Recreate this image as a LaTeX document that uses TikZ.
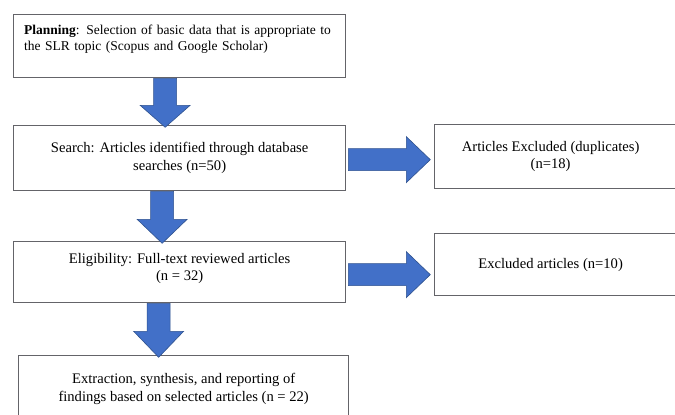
\documentclass[tikz,border=0pt]{standalone}
\usepackage{fontspec}
\setmainfont{Liberation Serif}
\definecolor{boxline}{RGB}{100,100,105}
\definecolor{arrfill}{RGB}{66,112,200}
\definecolor{arrline}{RGB}{47,82,143}
\begin{document}
\begin{tikzpicture}[x=1pt,y=-1pt,
  box/.style={draw=boxline, line width=1.3pt, fill=white, anchor=north west, inner sep=0pt, align=center, font=\fontsize{14.6}{17.5}\selectfont},
  barrow/.style={fill=arrfill, draw=arrline, line width=0.6pt, line join=miter},
  pics/darrow/.style args={#1/#2}{code={
    \path[barrow] (-11.5,0) -- (11.5,0) -- (11.5,#1-#2) -- (25,#1-#2) -- (0,#1) -- (-25,#1-#2) -- (-11.5,#1-#2) -- cycle;}},
  pics/rarrow/.style={code={
    \path[barrow] (0,-11) -- (#1-24,-11) -- (#1-24,-23) -- (#1,0) -- (#1-24,23) -- (#1-24,11) -- (0,11) -- cycle;}}
]
\useasboundingbox (0,0) rectangle (675,415);
\fill[white] (0,0) rectangle (675,415);

\node[box, minimum width=332pt, minimum height=63pt] (b1) at (13,14) {};
\node[anchor=north west, inner sep=0pt, align=left, text width=325pt, font=\fontsize{13.5}{15.5}\selectfont] (b1t) at (24,25) {\textbf{Planning}: Selection of basic data that is appropriate to\\the SLR topic (Scopus and Google Scholar)};

\node[box, minimum width=332pt, minimum height=65pt] (b2) at (13,125) {Search: Articles identified through database\\searches (n=50)};
\node[box, minimum width=246pt, minimum height=64pt] (b3) at (434,124) {\hspace*{-14pt}Articles Excluded (duplicates)\\\hspace*{-14pt}(n=18)};
\node[box, minimum width=332pt, minimum height=61pt] (b4) at (13,241) {Eligibility: Full-text reviewed articles\\(n = 32)\\[-7.5pt]};
\node[box, minimum width=246pt, minimum height=62pt] (b5) at (434,233) {\hspace*{-14pt}Excluded articles (n=10)};
\node[box, minimum width=330pt, minimum height=67pt] (b6) at (18,355) {Extraction, synthesis, and reporting of\\findings based on selected articles (n = 22)};

\pic at ([xshift=-14.5pt]b1.south) {darrow={49/22}};
\pic at ([xshift=-17.5pt]b2.south) {darrow={52/24}};
\pic at ([xshift=-21pt]b4.south) {darrow={54/26}};
\pic at ([xshift=2pt,yshift=-1.5pt]b2.east) {rarrow=82};
\pic at ([xshift=2pt,yshift=-2.5pt]b4.east) {rarrow=82};
\end{tikzpicture}
\end{document}
